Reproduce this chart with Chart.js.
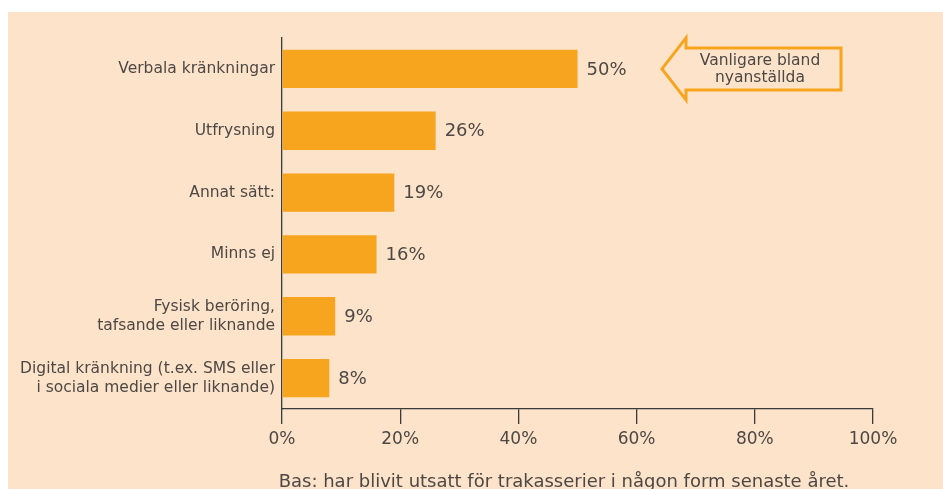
<!DOCTYPE html>
<html><head><meta charset="utf-8">
<script src="https://cdn.jsdelivr.net/npm/chart.js@4"></script>
<style>
html,body{margin:0;padding:0;background:#fff;width:943px;height:489px;overflow:hidden;}
#panel{position:absolute;left:8px;top:12px;width:935px;height:477px;background:#FDE3C9;}
#wrap{position:absolute;left:0;top:0;width:943px;height:489px;}
#foot{position:absolute;left:0;width:1128px;top:470px;text-align:center;font:18px "DejaVu Sans",sans-serif;color:#4d4845;white-space:nowrap;}
</style></head><body>
<div id="panel"></div>
<div id="wrap"><canvas id="c" width="943" height="489"></canvas></div>
<div id="foot">Bas: har blivit utsatt för trakasserier i någon form senaste året.</div>
<script>
const categories = [
  "Verbala kränkningar",
  "Utfrysning",
  "Annat sätt:",
  "Minns ej",
  ["Fysisk beröring,", "tafsande eller liknande"],
  ["Digital kränkning (t.ex. SMS eller", "i sociala medier eller liknande)"]
];
const values = [50, 26, 19, 16, 9, 8];
const tickValues = [0, 20, 40, 60, 80, 100];
const calloutText = ["Vanligare bland", "nyanställda"];

const textColor = '#4d4845';
const barColor = '#F7A51E';
const fontFamily = '"DejaVu Sans", sans-serif';

const valueLabels = {
  id: 'valueLabels',
  afterDatasetsDraw(chart) {
    const ctx = chart.ctx;
    const meta = chart.getDatasetMeta(0);
    ctx.save();
    ctx.font = '18px ' + fontFamily;
    ctx.fillStyle = textColor;
    ctx.textBaseline = 'middle';
    ctx.textAlign = 'left';
    meta.data.forEach((bar, i) => {
      ctx.fillText(values[i] + '%', bar.x + 9, bar.y + 1);
    });
    ctx.restore();
  }
};

const callout = {
  id: 'callout',
  afterDraw(chart) {
    const ctx = chart.ctx;
    const y = chart.getDatasetMeta(0).data[0].y;
    const tip = 662, neck = 686, right = 841;
    ctx.save();
    ctx.strokeStyle = barColor;
    ctx.lineWidth = 3;
    ctx.lineJoin = 'miter';
    ctx.beginPath();
    ctx.moveTo(tip, y);
    ctx.lineTo(neck, y - 31);
    ctx.lineTo(neck, y - 21);
    ctx.lineTo(right, y - 21);
    ctx.lineTo(right, y + 21);
    ctx.lineTo(neck, y + 21);
    ctx.lineTo(neck, y + 31);
    ctx.closePath();
    ctx.stroke();
    ctx.font = '15.5px ' + fontFamily;
    ctx.fillStyle = textColor;
    ctx.textAlign = 'center';
    ctx.textBaseline = 'middle';
    ctx.fillText(calloutText[0], 760, y - 8);
    ctx.fillText(calloutText[1], 760, y + 9);
    ctx.restore();
  }
};

new Chart(document.getElementById('c'), {
  type: 'bar',
  data: {
    labels: categories,
    datasets: [{
      data: values,
      backgroundColor: barColor,
      borderWidth: 0,
      categoryPercentage: 0.62,
      barPercentage: 1.0
    }]
  },
  options: {
    indexAxis: 'y',
    responsive: false,
    animation: false,
    events: [],
    layout: { padding: { top: 38, right: 70, left: 0, bottom: 0 } },
    plugins: { legend: { display: false }, tooltip: { enabled: false } },
    scales: {
      x: {
        min: 0, max: 100,
        afterBuildTicks(scale) { scale.ticks = tickValues.map(v => ({ value: v })); },
        afterFit(scale) { scale.height = 80; },
        grid: { drawOnChartArea: false, drawTicks: true, tickLength: 15, color: '#3a3a3a', lineWidth: 1.3 },
        border: { display: true, color: '#3a3a3a', width: 1.3 },
        ticks: {
          color: textColor, font: { family: fontFamily, size: 17 }, padding: 5,
          maxRotation: 0, autoSkip: false,
          callback: v => v + '%'
        }
      },
      y: {
        afterFit(scale) { scale.width = 282; },
        grid: { display: false, drawTicks: false },
        border: { display: true, color: '#3a3a3a', width: 1.3 },
        ticks: { color: textColor, font: { family: fontFamily, size: 15.5, lineHeight: 1.23 }, padding: 7 }
      }
    }
  },
  plugins: [valueLabels, callout]
});
</script>
</body></html>
